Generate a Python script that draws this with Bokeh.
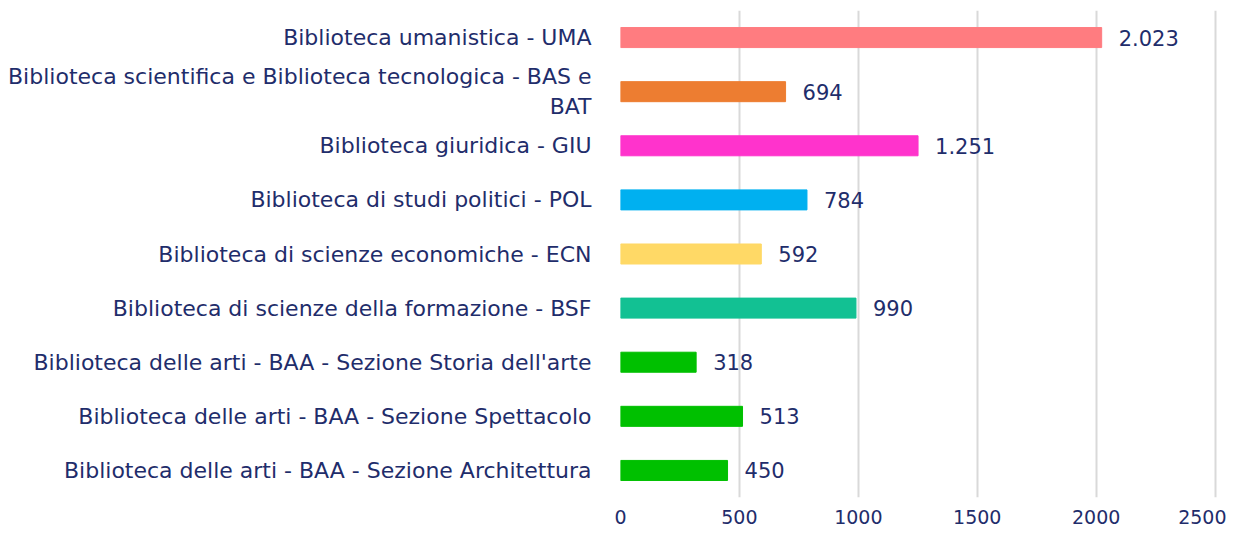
from bokeh.plotting import figure
from bokeh.models import ColumnDataSource, FactorRange, Range1d, FixedTicker
from bokeh.core.properties import value
from bokeh.embed import file_html
from bokeh.resources import INLINE

categories = [
    "Biblioteca umanistica - UMA",
    "Biblioteca scientifica e Biblioteca tecnologica - BAS e\nBAT",
    "Biblioteca giuridica - GIU",
    "Biblioteca di studi politici - POL",
    "Biblioteca di scienze economiche - ECN",
    "Biblioteca di scienze della formazione - BSF",
    "Biblioteca delle arti - BAA - Sezione Storia dell'arte",
    "Biblioteca delle arti - BAA - Sezione Spettacolo",
    "Biblioteca delle arti - BAA - Sezione Architettura",
]
values = [2023, 694, 1251, 784, 592, 990, 318, 513, 450]
colors = ["#FF7C80", "#ED7D31", "#FF33CC", "#00B0F0", "#FFD966",
          "#12C193", "#00C000", "#00C000", "#00C000"]
x_ticks = [0, 500, 1000, 1500, 2000, 2500]

def fmt(v):
    return f"{v:,}".replace(",", ".")

src = ColumnDataSource(dict(cat=categories, val=values, col=colors,
                            lab=[fmt(v) for v in values]))

FONT = "DejaVu Sans"
NAVY = "#1F2D6B"

p = figure(width=1226, height=526, output_backend="svg", toolbar_location=None,
           y_range=FactorRange(factors=categories[::-1], range_padding=0),
           x_range=Range1d(0, 2510),
           min_border_left=620, min_border_right=9, min_border_top=10,
           min_border_bottom=26)

p.hbar(y="cat", right="val", left=0, height=0.37, color="col", source=src)
p.text(x="val", y="cat", text="lab", source=src, x_offset=17,
       text_baseline="middle", text_align="left", text_color=NAVY,
       text_font=value(FONT), text_font_size="21px")

p.xaxis.ticker = FixedTicker(ticks=x_ticks)
p.xaxis.axis_line_color = None
p.xaxis.major_tick_line_color = None
p.xaxis.minor_tick_line_color = None
p.xaxis.major_label_text_font = FONT
p.xaxis.major_label_text_font_size = "19px"
p.xaxis.major_label_text_color = NAVY
p.xaxis.major_label_standoff = 6

p.yaxis.axis_line_color = None
p.yaxis.major_tick_line_color = None
p.yaxis.major_label_text_font = FONT
p.yaxis.major_label_text_font_size = "22px"
p.yaxis.major_label_text_color = NAVY
p.yaxis.major_label_standoff = 23

p.xgrid.ticker = FixedTicker(ticks=x_ticks)
p.xgrid.grid_line_color = "#D9D9D9"
p.xgrid.grid_line_width = 2
p.ygrid.grid_line_color = None
p.outline_line_color = None

open("out.html", "w").write(file_html(p, INLINE))
